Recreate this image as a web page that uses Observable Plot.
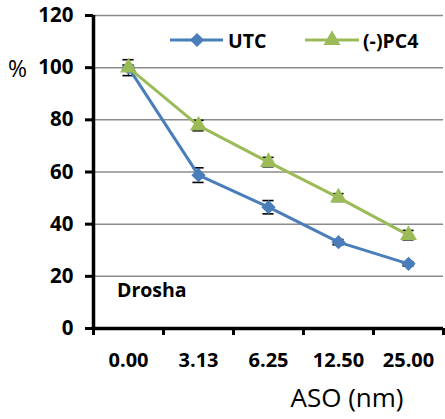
<!DOCTYPE html>
<html><head><meta charset="utf-8">
<script src="https://cdn.jsdelivr.net/npm/d3@7"></script>
<script src="https://cdn.jsdelivr.net/npm/@observablehq/plot@0.6"></script>
<style>
html,body{margin:0;padding:0;background:#fff;}
#wrap{position:relative;width:445px;height:419px;font-family:"Open Sans",sans-serif;}
#wrap > svg{position:absolute;left:0;top:0;}
</style></head><body><div id="wrap"></div>
<script>
const categories = ["0.00", "3.13", "6.25", "12.50", "25.00"];
const seriesNames = ["UTC", "(-)PC4"];
const utcValues = [100, 58.8, 46.5, 33.1, 24.8];
const utcErrors = [3.05, 2.8, 2.55, 1.0, 0.8];
const pc4Values = [100, 77.8, 63.8, 50.2, 35.8];
const pc4Errors = [1.0, 2.0, 1.8, 1.5, 1.8];
const yTicks = [0, 20, 40, 60, 80, 100, 120];
const xTitle = "ASO (nm)";
const yTitle = "%";
const note = "Drosha";

const blue = "#4a7ebb", green = "#9bbb59";
const idx = categories.map((_, i) => i);
const bounds = categories.map((_, i) => i - 0.5).concat([categories.length - 0.5]);
const utcRows = categories.map((c, i) => ({i, cat: c, v: utcValues[i], e: utcErrors[i]}));
const pc4Rows = categories.map((c, i) => ({i, cat: c, v: pc4Values[i], e: pc4Errors[i]}));
const allRows = utcRows.concat(pc4Rows);

const font = "Open Sans";
const chart = Plot.plot({
  width: 445, height: 419,
  marginLeft: 93, marginRight: 2, marginTop: 15, marginBottom: 91,
  style: {fontFamily: font, background: "white", overflow: "visible"},
  x: {domain: [-0.5, categories.length - 0.5], label: null},
  y: {domain: [0, 120], label: null},
  marks: [
    Plot.gridY(yTicks.filter(d => d > 0), {stroke: "#8c8c8c", strokeOpacity: 1, strokeWidth: 1.5}),
    Plot.axisY(yTicks, {tickSize: 8, tickPadding: 12, strokeWidth: 3, fontSize: 20.5, fontWeight: "bold", fill: "black", stroke: "black"}),
    Plot.axisX(bounds, {tickSize: 7, strokeWidth: 3, stroke: "black", tickFormat: () => ""}),
    Plot.axisX(idx, {tickSize: 0, tickPadding: 24, tickFormat: i => categories[i], fontSize: 20, fontWeight: "bold", fill: "black"}),
    Plot.ruleX([-0.5], {stroke: "black", strokeWidth: 3.5, y1: 0, y2: 120}),
    Plot.ruleY([0], {stroke: "black", strokeWidth: 3.5}),
    Plot.ruleX(allRows, {x: "i", y1: d => d.v - d.e, y2: d => d.v + d.e, stroke: "black", strokeWidth: 1.3}),
    Plot.ruleY(allRows, {y: d => d.v + d.e, x1: d => d.i - 0.08, x2: d => d.i + 0.08, stroke: "black", strokeWidth: 1.6}),
    Plot.ruleY(allRows, {y: d => d.v - d.e, x1: d => d.i - 0.08, x2: d => d.i + 0.08, stroke: "black", strokeWidth: 1.6}),
    Plot.line(utcRows, {x: "i", y: "v", stroke: blue, strokeWidth: 3}),
    Plot.line(pc4Rows, {x: "i", y: "v", stroke: green, strokeWidth: 3}),
    Plot.dot(utcRows, {x: "i", y: "v", symbol: "diamond2", r: 6.4, fill: blue, stroke: null}),
    Plot.dot(pc4Rows, {x: "i", y: "v", symbol: "triangle", r: 6.3, fill: green, stroke: null})
  ]
});
const wrap = document.getElementById("wrap");
wrap.appendChild(chart);

// overlay: titles, annotation, legend
const ov = d3.select(wrap).append("svg").attr("width", 445).attr("height", 419)
  .style("font-family", font).style("pointer-events", "none");
ov.append("text").attr("x", 8).attr("y", 76.5).attr("font-size", 23).text(yTitle);
ov.append("text").attr("x", 347).attr("y", 406.5).attr("text-anchor", "middle").attr("font-size", 26).text(xTitle);
ov.append("text").attr("x", 117).attr("y", 296.5).attr("font-size", 19.5).attr("font-weight", "bold").text(note);

const leg = [
  {name: seriesNames[0], color: blue, x1: 170, x2: 223, mx: 197, sym: d3.symbolDiamond2, size: Math.PI * 6.4 * 6.4, tx: 228},
  {name: seriesNames[1], color: green, x1: 305, x2: 359, mx: 332, sym: d3.symbolTriangle, size: Math.PI * 6.3 * 6.3, tx: 363}
];
leg.forEach(l => {
  ov.append("line").attr("x1", l.x1).attr("x2", l.x2).attr("y1", 40).attr("y2", 40)
    .attr("stroke", l.color).attr("stroke-width", 3);
  ov.append("path").attr("d", d3.symbol(l.sym, l.size)()).attr("transform", `translate(${l.mx},40)`).attr("fill", l.color);
  ov.append("text").attr("x", l.tx).attr("y", 48).attr("font-size", 19.5).attr("font-weight", "bold").text(l.name);
});
</script>
</body></html>
